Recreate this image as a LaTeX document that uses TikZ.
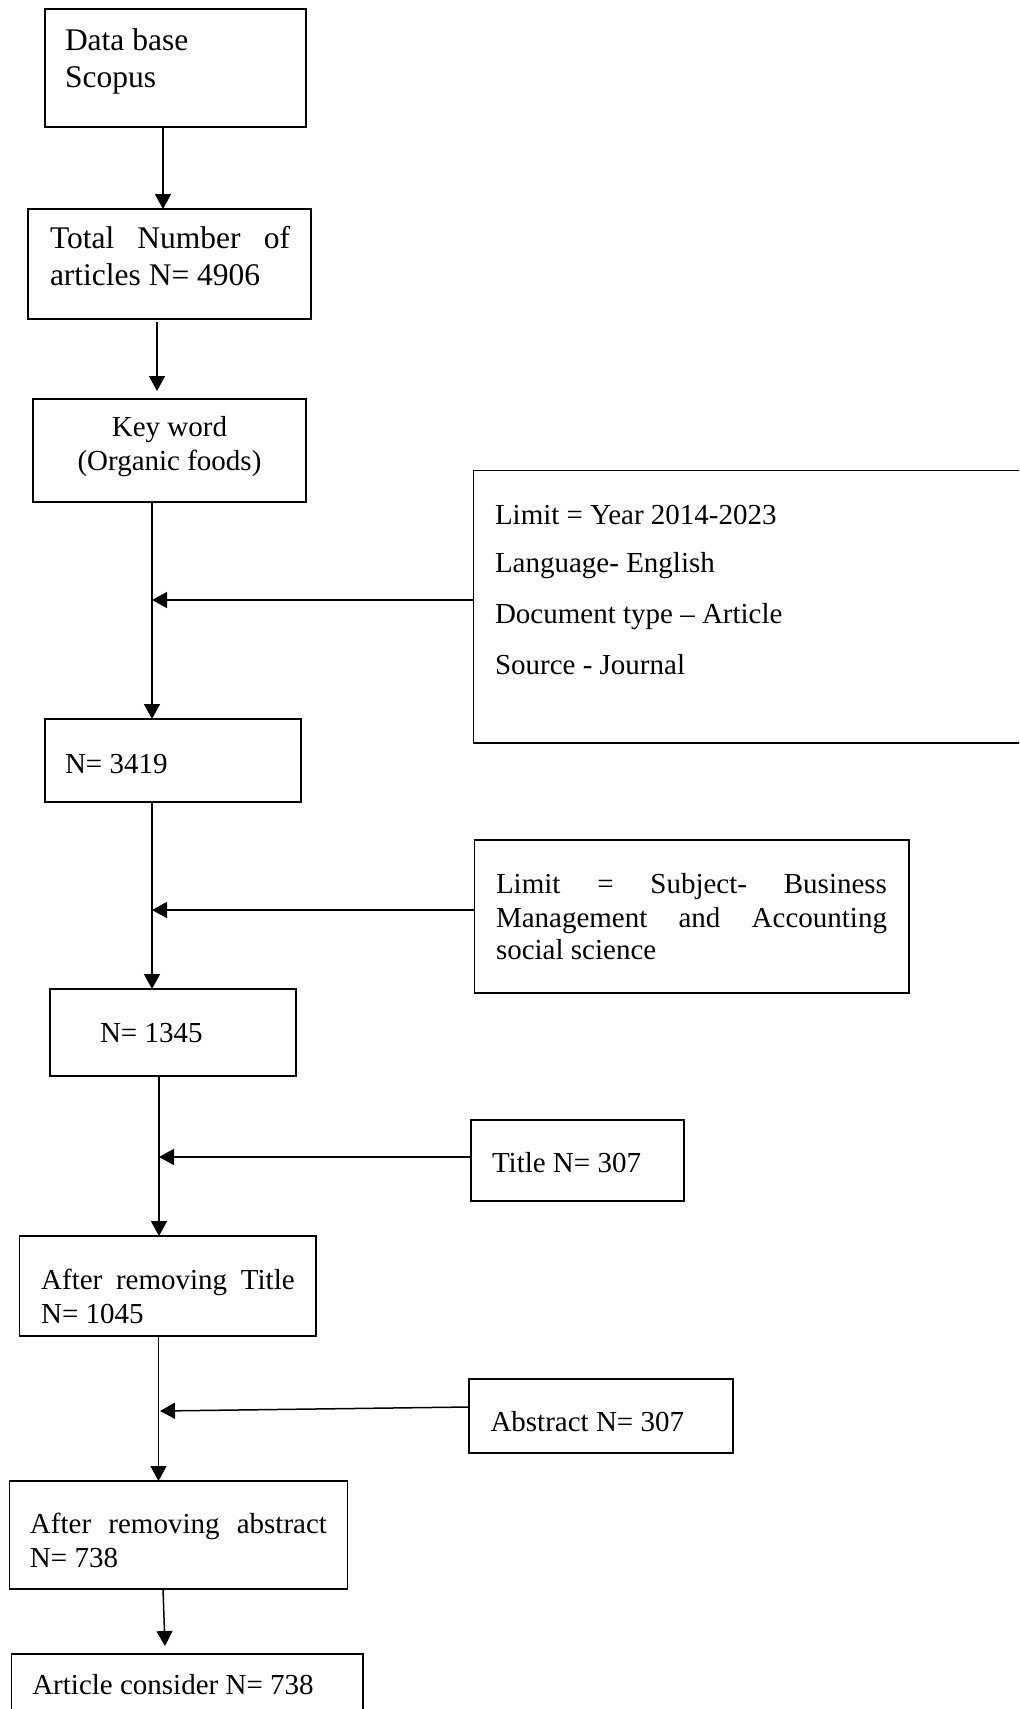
\documentclass[tikz,border=0pt]{standalone}
\usepackage{fontspec}
\setmainfont{Liberation Serif}
\usetikzlibrary{arrows.meta,calc}
\begin{document}
\begin{tikzpicture}[x=0.5pt,y=-0.5pt,
  box/.style={draw,line width=0.75pt,inner sep=0,outer sep=0,anchor=north west,rectangle},
  fa/.style={inner sep=0,outer sep=0,anchor=base west,font=\fontsize{15.75pt}{18pt}\selectfont},
  fb/.style={inner sep=0,outer sep=0,anchor=base west,font=\fontsize{14.5pt}{17pt}\selectfont},
  arr/.style={line width=0.75pt,-{Triangle[length=7.5pt,width=8pt]}}]
\useasboundingbox (0,0) rectangle (1019,1709);
\clip (0,0) rectangle (1019,1709);
% boxes
\node[box,minimum width=130.5pt,minimum height=59pt] (b1) at (45,9) {};
\node[box,minimum width=141.5pt,minimum height=55pt] (b2) at (28,209) {};
\node[box,minimum width=136.5pt,minimum height=51.5pt] (b3) at (33,399) {};
\node[box,minimum width=278.2pt,minimum height=136.25pt] (L1) at (473.6,470.5) {};
\node[box,minimum width=128pt,minimum height=41.5pt] (b4) at (45,719) {};
\node[box,minimum width=217.2pt,minimum height=76.5pt] (L2) at (474.6,840) {};
\node[box,minimum width=123pt,minimum height=43.5pt] (b5) at (50,989) {};
\node[box,minimum width=106.5pt,minimum height=40.5pt] (T) at (471,1120) {};
\node[box,minimum width=148.3pt,minimum height=50pt] (b6) at (19.4,1236) {};
\node[box,minimum width=132pt,minimum height=37pt] (A) at (469,1379) {};
\node[box,minimum width=168.9pt,minimum height=54pt] (b7) at (9.7,1481) {};
\node[box,minimum width=175.65pt,minimum height=38pt] (b8) at (11.7,1654) {};
% texts
\node[fa] (t1a) at (65,50.7) {Data base};
\node[fa] (t1b) at (65,87.3) {Scopus};
\node[fa] (t2a) at (50,248.3) {\makebox[120pt][s]{Total Number of}};
\node[fa] (t2b) at (50,285) {articles N= 4906};
\node[fb,anchor=base] (t3a) at (169.5,436) {Key word};
\node[fb,anchor=base] (t3b) at (169.5,470.7) {(Organic foods)};
\node[fb] (l1a) at (495,524) {Limit = Year 2014-2023};
\node[fb] (l1b) at (495,572.5) {Language- English};
\node[fb] (l1c) at (495,623.2) {Document type – Article};
\node[fb] (l1d) at (495,674.3) {Source - Journal};
\node[fb] (l2a) at (496,893) {\makebox[195.5pt][s]{Limit = Subject- Business}};
\node[fb] (l2b) at (496,927) {\makebox[195.5pt][s]{Management and Accounting}};
\node[fb] (l2c) at (496,959) {social science};
\node[fb] (t4) at (65,773) {N= 3419};
\node[fb] (t5) at (100,1042) {N= 1345};
\node[fb] (tt) at (492,1172.7) {Title N= 307};
\node[fb] (t6a) at (41.2,1289) {\makebox[126.75pt][s]{After removing Title}};
\node[fb] (t6b) at (41.2,1323) {N= 1045};
\node[fb] (ta) at (490.5,1431) {Abstract N= 307};
\node[fb] (t7a) at (30,1533) {\makebox[148.5pt][s]{After removing abstract}};
\node[fb] (t7b) at (30,1567) {N= 738};
\node[fb] (t8) at (32.3,1694) {Article consider N= 738};
% connectors
\coordinate (c1) at ($(b1.south west)+(118,0)$);
\draw[arr] (c1) -- (c1 |- b2.north);
\coordinate (c2) at ($(b2.south west)+(129,3)$);
\coordinate (c2e) at ($(b3.north west)+(124,-8)$);
\draw[arr] (c2) -- (c2e);
\coordinate (c3) at ($(b3.south west)+(119,0)$);
\draw[arr] (c3) -- (c3 |- b4.north);
\coordinate (j1) at ($(L1.north west)+(0,129.5)$);
\draw[arr] (j1) -- (j1 -| c3);
\coordinate (c4) at ($(b4.south west)+(107,0)$);
\draw[arr] (c4) -- (c4 |- b5.north);
\coordinate (j2) at ($(L2.north west)+(0,70)$);
\draw[arr] (j2) -- (j2 -| c4);
\coordinate (c5) at ($(b5.south west)+(109,0)$);
\draw[arr] (c5) -- (c5 |- b6.north);
\coordinate (j3) at ($(T.north west)+(0,37)$);
\draw[arr] (j3) -- (j3 -| c5);
\coordinate (c6) at ($(b6.south west)+(139.1,0)$);
\draw[arr] (c6) -- (c6 |- b7.north);
\coordinate (j4) at ($(A.north west)+(0,28)$);
\coordinate (j4e) at ($(b6.south west)+(140.6,75)$);
\draw[arr] (j4) -- (j4e);
\coordinate (c7) at ($(b7.south west)+(153.3,0)$);
\coordinate (c7e) at ($(b8.north west)+(153.3,-8)$);
\draw[arr] (c7) -- (c7e);
\end{tikzpicture}
\end{document}
